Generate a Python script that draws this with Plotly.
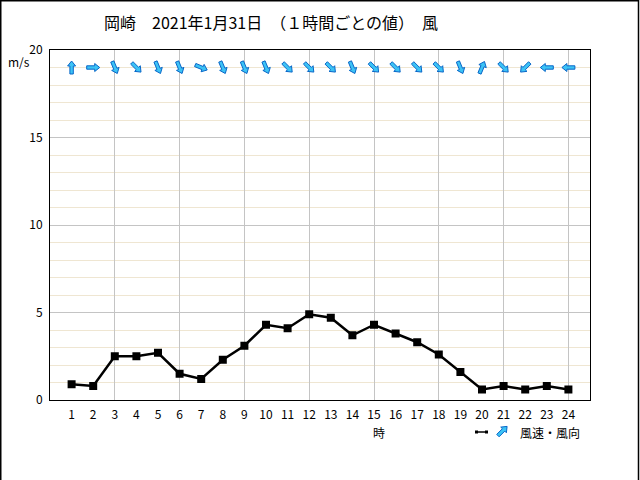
import math
import plotly.graph_objects as go

# ---- data ----
hours = list(range(1, 25))
speed = [0.9, 0.8, 2.5, 2.5, 2.7, 1.5, 1.2, 2.3, 3.1, 4.3, 4.1, 4.9,
         4.7, 3.7, 4.3, 3.8, 3.3, 2.6, 1.6, 0.6, 0.8, 0.6, 0.8, 0.6]
# wind direction (blowing from), 16-point compass
direction = ["S", "W", "NNW", "NW", "NNW", "NNW", "WNW", "NNW", "NNW", "NNW", "NW", "NW",
             "NW", "NNW", "NW", "NW", "NW", "NW", "NNW", "SSW", "NW", "NE", "E", "E"]
compass = ["N", "NNE", "NE", "ENE", "E", "ESE", "SE", "SSE",
           "S", "SSW", "SW", "WSW", "W", "WNW", "NW", "NNW"]
x_tick_labels = [str(h) for h in hours]
y_ticks = [0, 5, 10, 15, 20]
title_text = "岡崎　2021年1月31日　（１時間ごとの値）　風"
legend_text = "風速・風向"
arrow_row = 19

FONT = "Noto Sans CJK JP"
W, H = 640, 480
ML, MR, MT, MB = 50, 50, 50, 80
PW, PH = W - ML - MR, H - MT - MB


def px(x):
    return (x - ML) / PW


def py(y):
    return (H - MB - y) / PH


OUT, FILL = "#0866c8", "#3cc3f5"
# block arrow pointing up, pixel units, y up, centred on origin
ARROW = [(0, 6.5), (4, 1.5), (1.7, 1.5), (1.7, -6.5), (-1.7, -6.5), (-1.7, 1.5), (-4, 1.5)]


def arrow_path(bearing):
    t = math.radians(bearing)
    c, s = math.cos(t), math.sin(t)
    pts = [(x * c + y * s, -x * s + y * c) for x, y in ARROW]
    return "M " + " L ".join(f"{a:.2f},{b:.2f}" for a, b in pts) + " Z"


def arrow_shape(xa, ya, bearing, xref="x", yref="y"):
    return dict(type="path", xref=xref, yref=yref, xsizemode="pixel", ysizemode="pixel",
                xanchor=xa, yanchor=ya, path=arrow_path(bearing),
                fillcolor=FILL, line=dict(color=OUT, width=1), layer="above")


def frame_line(x0, y0, x1, y1, w=1.5):
    return dict(type="line", xref="paper", yref="paper", x0=px(x0), x1=px(x1),
                y0=py(y0), y1=py(y1), line=dict(color="black", width=w))


fig = go.Figure()

fig.add_trace(go.Scatter(
    x=hours, y=speed, mode="lines+markers",
    line=dict(color="black", width=2.5),
    marker=dict(symbol="square", size=8, color="black"),
    showlegend=False, hoverinfo="skip",
))
# invisible trace to activate overlay axis for labels
fig.add_trace(go.Scatter(x=hours, y=speed, xaxis="x2", mode="markers",
                         marker=dict(opacity=0), showlegend=False, hoverinfo="skip"))

shapes = [
    frame_line(0.75, 0, 0.75, 480),
    frame_line(0, 0.75, 639, 0.75),
    frame_line(638.5, 0, 638.5, 480),
    frame_line(476, 432, 487, 432),
    dict(type="rect", xref="paper", yref="paper", x0=px(475), x1=px(478),
         y0=py(430.5), y1=py(433.5), fillcolor="black", line=dict(width=0)),
    dict(type="rect", xref="paper", yref="paper", x0=px(485), x1=px(488),
         y0=py(430.5), y1=py(433.5), fillcolor="black", line=dict(width=0)),
]
for h, d in zip(hours, direction):
    bearing = (compass.index(d) * 22.5 + 180) % 360
    shapes.append(arrow_shape(h, arrow_row, bearing))
shapes.append(arrow_shape(px(502.5), py(431), 45, xref="paper", yref="paper"))


def label(x, y, text, size=12, xanchor="center"):
    return dict(x=px(x), y=py(y), xref="paper", yref="paper", text=text,
                xanchor=xanchor, yanchor="middle", showarrow=False,
                font=dict(family=FONT, size=size, color="black"))


annotations = [
    label(271, 22, title_text, size=16),
    label(19, 62, "m/s"),
    label(379, 432, "時"),
    label(518, 432, legend_text, xanchor="left"),
]

fig.update_layout(
    width=W, height=H, margin=dict(l=ML, r=MR, t=MT, b=MB),
    paper_bgcolor="white", plot_bgcolor="white",
    annotations=annotations, shapes=shapes, showlegend=False,
    font=dict(family=FONT, size=12, color="black"),
    xaxis=dict(range=[0, 25], dtick=3, tick0=0, showgrid=True, gridcolor="#c4c4c4",
               gridwidth=1, showticklabels=False, zeroline=False, showline=True,
               linecolor="black", linewidth=1, mirror=True, ticks=""),
    xaxis2=dict(range=[0, 25], overlaying="x", side="bottom", tickvals=hours,
                ticktext=x_tick_labels, showgrid=False, zeroline=False, showline=False,
                ticks="", ticklabelstandoff=6, tickfont=dict(family=FONT, size=12)),
    yaxis=dict(range=[0, 20], tickvals=y_ticks, showgrid=True, gridcolor="#c4c4c4",
               gridwidth=1, zeroline=False, showline=True, linecolor="black",
               linewidth=1, mirror=True, ticks="", ticklabelstandoff=4,
               minor=dict(dtick=1, showgrid=True, gridcolor="#efe6d2", gridwidth=1),
               tickfont=dict(family=FONT, size=12)),
)

fig.write_html("out.html", config={"displayModeBar": False},
               post_script="document.body.style.margin='0px';")
